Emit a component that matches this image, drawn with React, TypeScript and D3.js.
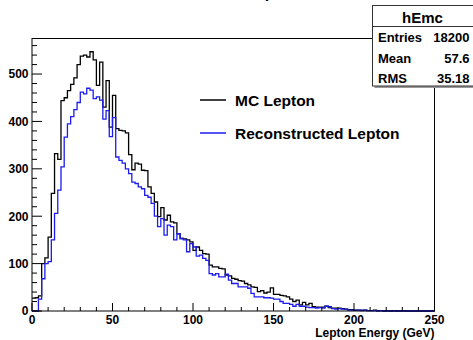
import { line, curveStepAfter, range, scaleLinear } from "d3";

const WIDTH = 473;
const HEIGHT = 340;
const FRAME = { left: 32, right: 434.5, top: 38.5, bottom: 311 };
const FONT = "'Liberation Sans', Arial, Helvetica, sans-serif";

const BIN_WIDTH = 2; // GeV
const X_TICKS = [0, 50, 100, 150, 200, 250];
const Y_TICKS = [0, 100, 200, 300, 400, 500];

// MC lepton energy, counts per 2 GeV bin (0..250 GeV)
const mcCounts = [
  27, 28, 32, 100, 112, 156, 248, 332, 320, 444,
  450, 465, 478, 492, 520, 538, 540, 536, 547, 530,
  476, 525, 430, 486, 388, 455, 385, 381, 380, 376,
  330, 298, 312, 310, 297, 296, 262, 248, 230, 199,
  218, 192, 202, 188, 186, 163, 153, 152, 150, 146,
  128, 135, 128, 121, 120, 97, 93, 93, 90, 89,
  76, 74, 69, 67, 64, 63, 58, 55, 51, 50,
  41, 43, 38, 40, 49, 35, 35, 33, 32, 30,
  25, 20, 23, 13, 18, 13, 16, 9, 8, 8,
  8, 10, 7, 6, 6, 6, 5, 4, 3, 3,
  2, 2, 2, 2, 1, 1, 2, 1, 1, 0,
  1, 0, 1, 0, 0, 1, 0, 0, 0, 0,
  0, 0, 0, 0, 0,
];

// reconstructed lepton energy, counts per 2 GeV bin
const recoCounts = [
  0, 0, 25, 68, 100, 104, 150, 206, 255, 304,
  367, 395, 410, 425, 440, 462, 458, 470, 466, 448,
  452, 445, 405, 423, 368, 408, 325, 318, 312, 300,
  290, 272, 269, 262, 258, 244, 240, 227, 200, 178,
  195, 160, 181, 178, 150, 163, 153, 150, 125, 142,
  135, 116, 118, 111, 107, 79, 76, 79, 72, 72,
  78, 65, 58, 58, 51, 51, 51, 48, 37, 30,
  30, 30, 28, 28, 27, 25, 25, 20, 16, 16,
  14, 10, 14, 10, 10, 8, 7, 7, 6, 7,
  6, 10, 9, 5, 4, 5, 4, 4, 2, 2,
  2, 2, 1, 2, 1, 1, 1, 0, 1, 0,
  0, 0, 0, 0, 0, 0, 0, 0, 0, 0,
  0, 0, 0, 0, 0,
];

const legendItems = [
  { label: "MC Lepton", color: "#000000" },
  { label: "Reconstructed Lepton", color: "#1c1cf0" },
];

const statsRows = [
  { label: "Entries", value: "18200" },
  { label: "Mean", value: "57.6" },
  { label: "RMS", value: "35.18" },
];

type Bin = { edge: number; count: number };

export default function App() {
  const xScale = scaleLinear().domain([0, 250]).range([FRAME.left, FRAME.right]);
  const yScale = scaleLinear().domain([0, 575]).range([FRAME.bottom, FRAME.top]);

  const stepPath = (counts: number[]) => {
    const bins: Bin[] = counts.map((count, i) => ({ edge: i * BIN_WIDTH, count }));
    bins.push({ edge: counts.length * BIN_WIDTH, count: counts[counts.length - 1] });
    return (
      line<Bin>()
        .x((d) => xScale(d.edge))
        .y((d) => yScale(d.count))
        .curve(curveStepAfter)(bins) ?? ""
    );
  };

  const xMinor = range(0, 251, 10).filter((v) => v % 50 !== 0);
  const yMinor = range(0, 575, 20).filter((v) => v % 100 !== 0);

  return (
    <svg
      width={WIDTH}
      height={HEIGHT}
      viewBox={`0 0 ${WIDTH} ${HEIGHT}`}
      style={{ position: "absolute", left: 0, top: 0, background: "#fff" }}
      fontFamily={FONT}
      fontWeight="bold"
    >
      <rect width={WIDTH} height={HEIGHT} fill="#fff" />

      {/* title, almost entirely above the visible area */}
      <text x={246} y={-2.5} fontSize={16}>
        Lepton
      </text>

      {/* histograms */}
      <path d={stepPath(mcCounts)} fill="none" stroke={legendItems[0].color} strokeWidth={1.3} />
      <path d={stepPath(recoCounts)} fill="none" stroke={legendItems[1].color} strokeWidth={1.3} />

      {/* frame */}
      <rect
        x={FRAME.left}
        y={FRAME.top}
        width={FRAME.right - FRAME.left}
        height={FRAME.bottom - FRAME.top}
        fill="none"
        stroke="#000"
        strokeWidth={1}
      />

      {/* x axis ticks */}
      {X_TICKS.map((t) => (
        <g key={`xt${t}`}>
          <line
            x1={xScale(t)}
            x2={xScale(t)}
            y1={FRAME.bottom}
            y2={FRAME.bottom - 8}
            stroke="#000"
          />
          <text x={xScale(t)} y={324} fontSize={12} textAnchor="middle">
            {t}
          </text>
        </g>
      ))}
      {xMinor.map((t) => (
        <line
          key={`xm${t}`}
          x1={xScale(t)}
          x2={xScale(t)}
          y1={FRAME.bottom}
          y2={FRAME.bottom - 4}
          stroke="#000"
        />
      ))}

      {/* y axis ticks */}
      {Y_TICKS.map((t) => (
        <g key={`yt${t}`}>
          <line
            x1={FRAME.left}
            x2={FRAME.left + 10}
            y1={yScale(t)}
            y2={yScale(t)}
            stroke="#000"
          />
          <text x={28.5} y={yScale(t) + 4.3} fontSize={12} textAnchor="end">
            {t}
          </text>
        </g>
      ))}
      {yMinor.map((t) => (
        <line
          key={`ym${t}`}
          x1={FRAME.left}
          x2={FRAME.left + 5}
          y1={yScale(t)}
          y2={yScale(t)}
          stroke="#000"
        />
      ))}

      <text x={FRAME.right} y={337} fontSize={12} textAnchor="end">
        Lepton Energy (GeV)
      </text>

      {/* legend */}
      {legendItems.map((item, i) => {
        const cy = 100 + i * 33;
        return (
          <g key={item.label}>
            <line x1={200} x2={226} y1={cy} y2={cy} stroke={item.color} strokeWidth={1.5} />
            <text x={235} y={cy + 5.5} fontSize={15.5}>
              {item.label}
            </text>
          </g>
        );
      })}

      {/* stats box */}
      <rect x={374.5} y={7.5} width={104} height={80.5} fill="#999" />
      <rect x={372.5} y={5.5} width={104} height={80.5} fill="#fff" stroke="#333" />
      <line x1={372.5} x2={476.5} y1={26.5} y2={26.5} stroke="#333" />
      <text x={422.5} y={23} fontSize={15} textAnchor="middle">
        hEmc
      </text>
      {statsRows.map((row, i) => (
        <g key={row.label} fontSize={13}>
          <text x={378} y={42 + i * 20.5}>
            {row.label}
          </text>
          <text x={469.5} y={42 + i * 20.5} textAnchor="end">
            {row.value}
          </text>
        </g>
      ))}
    </svg>
  );
}
